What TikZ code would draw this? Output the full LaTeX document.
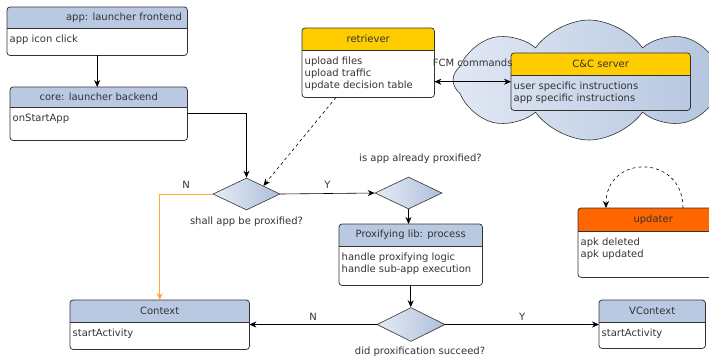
\documentclass[tikz,border=0pt]{standalone}
\usepackage{fontspec}
\setmainfont{DejaVu Sans}
\usetikzlibrary{shapes.geometric,shapes.symbols,arrows.meta,positioning,calc}

\definecolor{headblue}{HTML}{B9C9E2}
\definecolor{headyellow}{HTML}{FFCC00}
\definecolor{headorange}{HTML}{FF6600}
\definecolor{linegray}{HTML}{333333}
\definecolor{cloudlight}{HTML}{E1E8F4}
\definecolor{clouddark}{HTML}{B3C4DE}
\definecolor{dialight}{HTML}{E6ECF6}
\definecolor{diadark}{HTML}{AEBFD9}
\definecolor{noline}{HTML}{FFAA33}

% class box: [title opts]{name}{top left}{width}{height}{header height}{fill}{title}{body}
\newcommand\umlbox[9][]{%
  \node[boxframe, minimum width=#4pt, minimum height=#5pt] (#2) at (#3) {};
  \begin{scope}
    \clip[rounded corners=3pt] (#2.north west) rectangle (#2.south east);
    \fill[#7] (#2.north west) rectangle ([yshift=-#6pt]#2.north east);
  \end{scope}
  \draw[boxline] ([yshift=-#6pt]#2.north west) -- ([yshift=-#6pt]#2.north east);
  \draw[boxline, rounded corners=3pt] (#2.north west) rectangle (#2.south east);
  \node[boxtitle, #1] (#2-title) at ($(#2.north)+(0,#6/2)$) {#8};
  \node[boxbody] (#2-body) at ([yshift=-#6pt]#2.north west) {#9};
}

\begin{document}
\begin{tikzpicture}[x=1pt, y=-1pt,
                    font=\fontsize{10}{12}\selectfont, text=linegray,
                    boxframe/.style={rectangle, inner sep=0pt, anchor=north west},
                    boxline/.style={draw=linegray, line width=0.75pt},
                    boxtitle/.style={inner sep=0pt},
                    boxbody/.style={anchor=north west, align=left, inner xsep=2.5pt, inner ysep=6.5pt},
                    decision/.style={diamond, draw=linegray, line width=0.6pt, left color=dialight, right color=diadark,
                                     minimum width=67pt, minimum height=32pt, inner sep=0pt},
                    flow/.style={draw=black, line width=0.6pt, -{Stealth[length=7pt, width=6pt]}},
                    both/.style={flow, {Stealth[length=7pt, width=6pt]}-{Stealth[length=7pt, width=6pt]}},
                    lbl/.style={inner sep=1pt}
                ]
  \useasboundingbox (0,0) rectangle (709,357);

  % C&C cloud
  \node[cloud, cloud puffs=8, cloud puff arc=110, aspect=2.4, draw=linegray, line width=0.6pt,
        left color=cloudlight, right color=clouddark,
        minimum width=272pt, minimum height=120pt] (net) at (589,80) {};

  % Launcher
  \umlbox[anchor=east, xshift=85pt]{app}{7,7}{180}{48}{21}{headblue}{app: launcher frontend}{app icon click}
  \umlbox{core}{10,87}{177}{53}{20}{headblue}{core: launcher backend}{onStartApp}

  % Retriever and server
  \umlbox{ret}{302,28}{132}{69}{22}{headyellow}{retriever}{upload files\\upload traffic\\update decision table}
  \umlbox{cc}{511,53}{179}{57}{22}{headyellow}{C\&C server}{user specific instructions\\app specific instructions}

  % Updater
  \umlbox{upd}{578,208}{150}{69}{23}{headorange}{updater}{apk deleted\\apk updated}

  % Decisions
  \node[decision] (d1) at (246.5,194) {};
  \node[lbl, below=5pt of d1] (d1-text) {shall app be proxified?};
  \node[decision] (d2) at (408.5,193) {};
  \node[lbl, above=12pt of d2, xshift=12pt] (d2-text) {is app already proxified?};
  \node[decision, minimum width=68pt, minimum height=34pt] (d3) at (411,324.5) {};
  \node[lbl, below=4pt of d3, xshift=9pt] (d3-text) {did proxification succeed?};

  % Proxifying lib and contexts
  \umlbox{proxy}{339,224}{143}{61}{22}{headblue}{Proxifying lib: process}{handle proxifying logic\\handle sub-app execution}
  \umlbox{ctx}{70,300}{179}{49}{22}{headblue}{Context}{startActivity}
  \umlbox{vctx}{599,300}{106}{48}{22}{headblue}{VContext}{startActivity}

  % Connections
  \draw[flow] (app.south) -- (app.south |- core.north);
  \draw[flow] (core.east) -| (d1.north);
  \draw[flow, dashed] ([xshift=34pt]ret.south west) -- (d1.north east);
  \draw[both] (ret.east |- cc.west) -- node[lbl, above=14pt] {FCM commands} (cc.west);
  \draw[flow] (d1.east) -- node[lbl, above=4pt] {Y} (d2.west);
  \draw[flow, draw=noline] (d1.west) -| node[lbl, pos=0.25, above=4pt] {N} (ctx.north);
  \draw[flow] (d2.south) -- (d2.south |- proxy.north);
  \draw[flow] (proxy.south) -- (proxy.south |- d3.north);
  \draw[flow] (d3.west) -- node[lbl, above=3pt] {N} (d3.west -| ctx.east);
  \draw[flow] (d3.east) -- node[lbl, above=3pt] {Y} (d3.east -| vctx.west);
  \draw[flow, dashed] ([xshift=105pt]upd.north west) to[out=90, in=90, looseness=1.8] ([xshift=28pt]upd.north west);
\end{tikzpicture}
\end{document}
